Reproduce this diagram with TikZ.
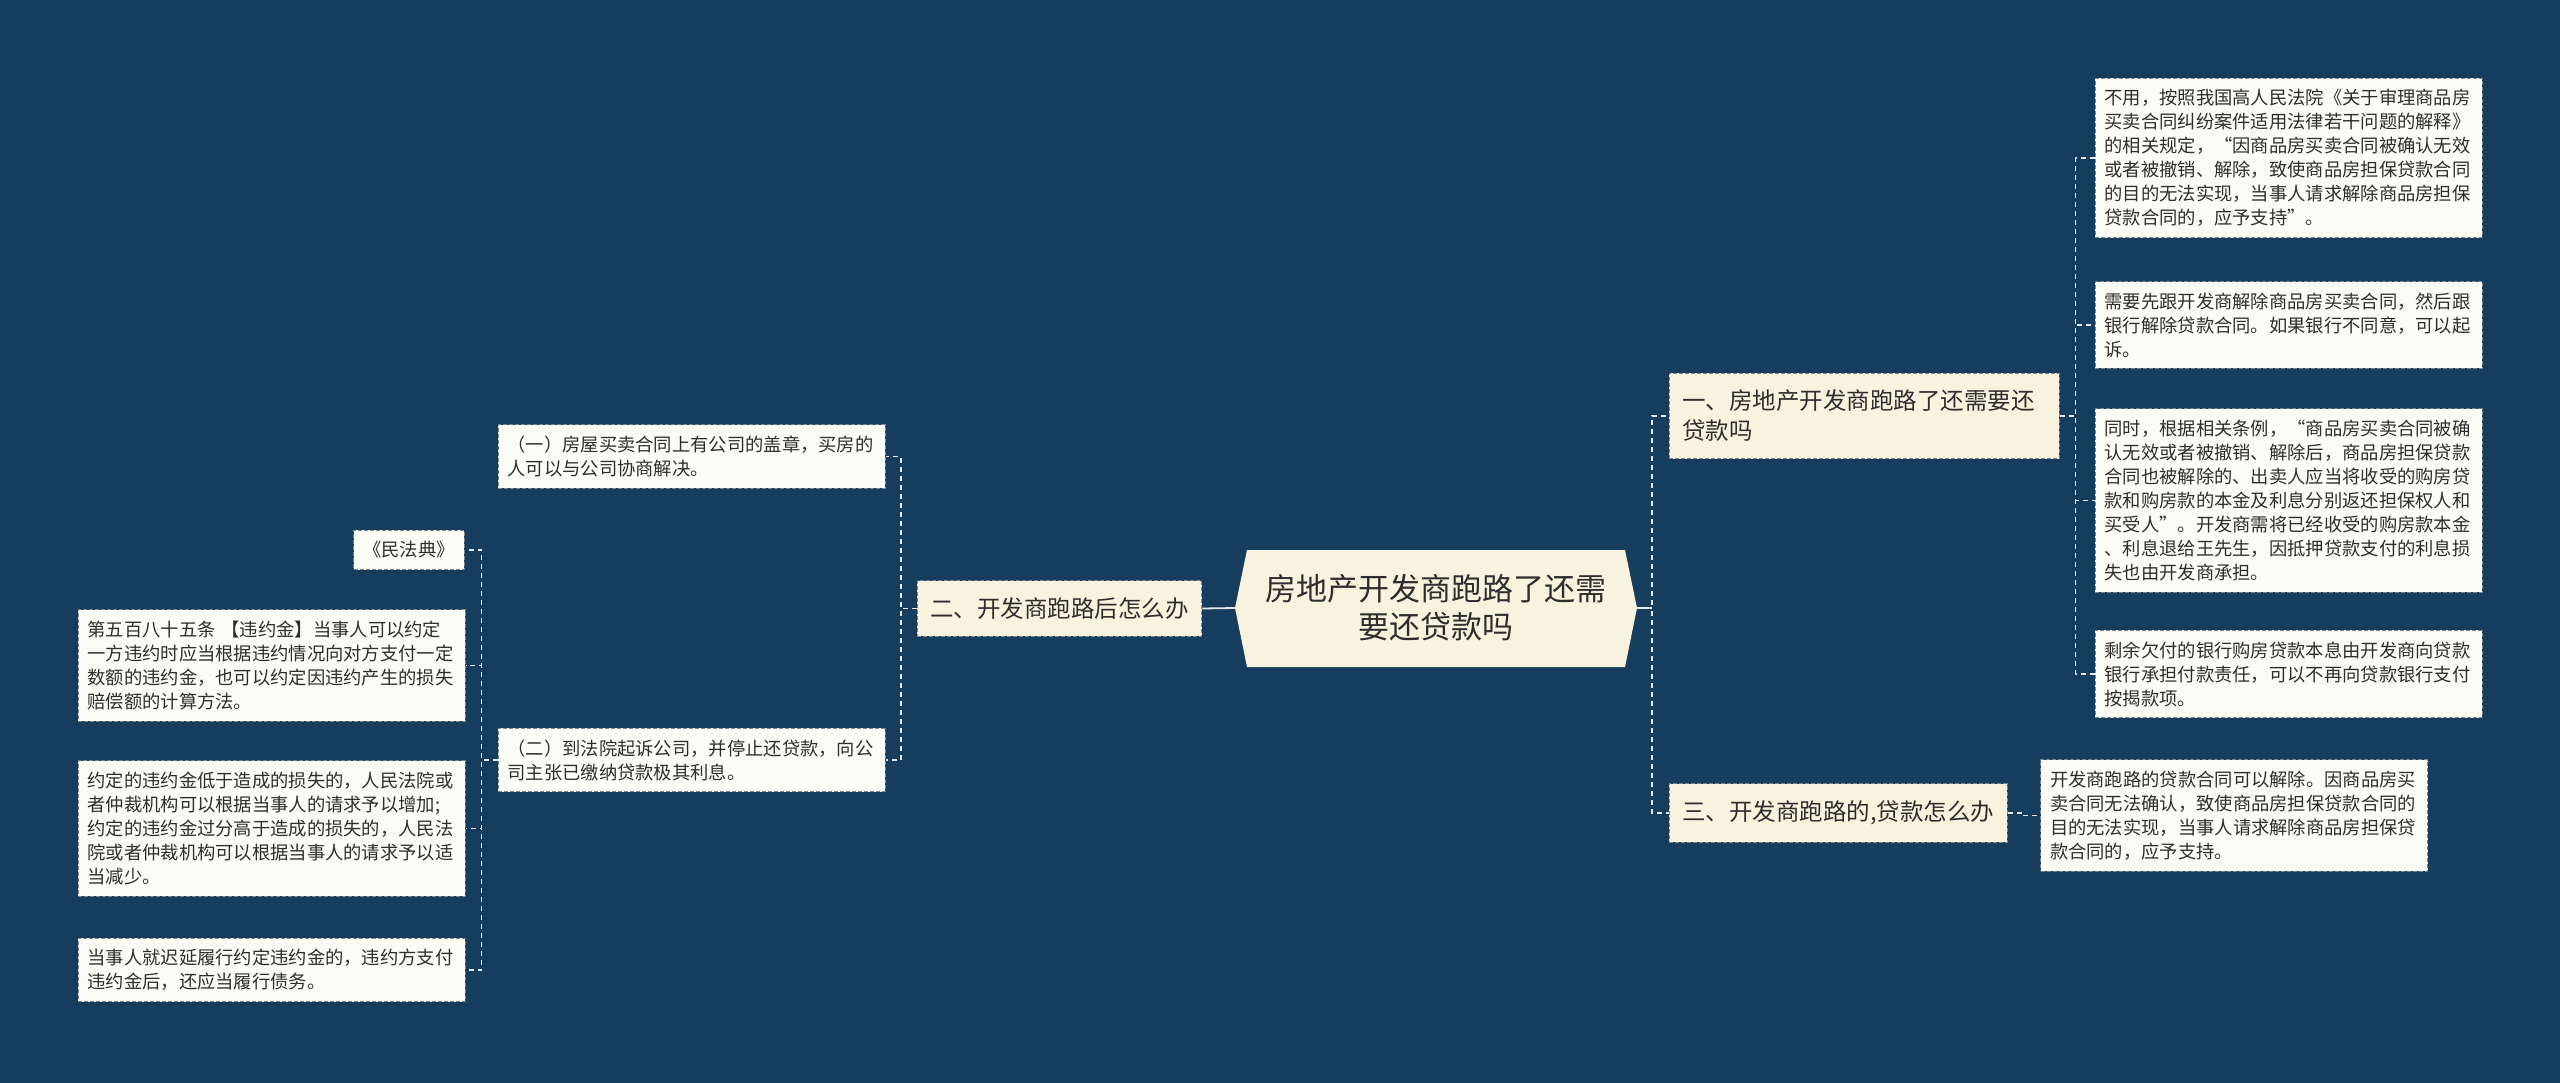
\documentclass[tikz,border=0pt]{standalone}
\usepackage{fontspec}
\setmainfont{Noto Sans CJK SC}
\definecolor{bgblue}{HTML}{163D5E}
\definecolor{cream}{HTML}{F8F3DF}
\definecolor{paper}{HTML}{FCFCF6}
\definecolor{inkgray}{HTML}{2E2E2E}
\definecolor{linkgray}{HTML}{E4E8EC}
\definecolor{rimgray}{HTML}{7D858C}
\begin{document}
\begin{tikzpicture}[x=1pt, y=-1pt,
  rootbox/.style={align=center, text=inkgray, font=\fontsize{31}{38}\selectfont},
  branchbox/.style={draw=rimgray, line width=1pt, dash pattern=on 4pt off 2pt,
    fill=cream, text=inkgray, align=left, inner xsep=13pt, inner ysep=17pt,
    font=\fontsize{23.5}{30}\selectfont},
  leafbox/.style={draw=rimgray, line width=1pt, dash pattern=on 4pt off 2pt,
    fill=paper, text=inkgray, align=left, text width=#1, inner xsep=9.5pt,
    inner ysep=11pt, font=\fontsize{18.3}{24}\selectfont},
  leafbox/.default=368pt,
  link/.style={draw=linkgray, line width=1.8pt, dash pattern=on 5pt off 4pt}]
\def\rootshape{(1235,608) -- (1247,550) -- (1625,550) -- (1637,608) -- (1625,667) -- (1247,667) -- cycle}

\fill[bgblue] (0,0) rectangle (2560,1083);
\useasboundingbox (0,0) rectangle (2560,1083);

% centre topic
\fill[cream] \rootshape;
\node[rootbox] (root) at (1436,608) {房地产开发商跑路了还需\\要还贷款吗};
\coordinate (rootL) at (1235,608);
\coordinate (rootR) at (1637,608);

% right side
\node[branchbox, text width=364pt] (b1) at (1864,416) {一、房地产开发商跑路了还需要还\\贷款吗};
\node[branchbox] (b3) at (1838,813) {三、开发商跑路的,贷款怎么办};

\node[leafbox] (r1) at (2288.5,158) {不用，按照我国高人民法院《关于审理商品房\\买卖合同纠纷案件适用法律若干问题的解释》\\的相关规定，“因商品房买卖合同被确认无效\\或者被撤销、解除，致使商品房担保贷款合同\\的目的无法实现，当事人请求解除商品房担保\\贷款合同的，应予支持”。};
\node[leafbox] (r2) at (2288.5,325) {需要先跟开发商解除商品房买卖合同，然后跟\\银行解除贷款合同。如果银行不同意，可以起\\诉。};
\node[leafbox] (r3) at (2288.5,500.5) {同时，根据相关条例，“商品房买卖合同被确\\认无效或者被撤销、解除后，商品房担保贷款\\合同也被解除的、出卖人应当将收受的购房贷\\款和购房款的本金及利息分别返还担保权人和\\买受人”。开发商需将已经收受的购房款本金\\、利息退给王先生，因抵押贷款支付的利息损\\失也由开发商承担。};
\node[leafbox] (r4) at (2288.5,674) {剩余欠付的银行购房贷款本息由开发商向贷款\\银行承担付款责任，可以不再向贷款银行支付\\按揭款项。};
\node[leafbox] (r5) at (2234,815.5) {开发商跑路的贷款合同可以解除。因商品房买\\卖合同无法确认，致使商品房担保贷款合同的\\目的无法实现，当事人请求解除商品房担保贷\\款合同的，应予支持。};

% left side
\node[branchbox] (b2) at (1059.5,608.5) {二、开发商跑路后怎么办};
\node[leafbox] (l1) at (691.5,456.5) {（一）房屋买卖合同上有公司的盖章，买房的\\人可以与公司协商解决。};
\node[leafbox] (l2) at (691.5,760) {（二）到法院起诉公司，并停止还贷款，向公\\司主张已缴纳贷款极其利息。};

\node[leafbox=91.5pt] (m1) at (409,550) {《民法典》};
\node[leafbox] (m2) at (271.5,665.5) {第五百八十五条 【违约金】当事人可以约定\\一方违约时应当根据违约情况向对方支付一定\\数额的违约金，也可以约定因违约产生的损失\\赔偿额的计算方法。};
\node[leafbox] (m3) at (271.5,828.5) {约定的违约金低于造成的损失的，人民法院或\\者仲裁机构可以根据当事人的请求予以增加;\\约定的违约金过分高于造成的损失的，人民法\\院或者仲裁机构可以根据当事人的请求予以适\\当减少。};
\node[leafbox] (m4) at (271.5,970) {当事人就迟延履行约定违约金的，违约方支付\\违约金后，还应当履行债务。};

% connectors
\draw[draw=linkgray, line width=1.8pt] (rootL) -- (b2.east);
\draw[draw=linkgray, line width=1.8pt] (rootR) -- ++(15,0);
\foreach \b in {b1,b3}
  \draw[link] (rootR) -- ++(15,0) |- (\b.west);
\foreach \r in {r1,r2,r3,r4}
  \draw[link] (b1.east) -- ++(16,0) |- (\r.west);
\draw[link] (b3.east) -- ++(16,0) |- (r5.west);
\foreach \l in {l1,l2}
  \draw[link] (b2.west) -- ++(-16,0) |- (\l.east);
\foreach \m in {m1,m2,m3,m4}
  \draw[link] (l2.west) -- ++(-16,0) |- (\m.east);
\end{tikzpicture}
\end{document}
